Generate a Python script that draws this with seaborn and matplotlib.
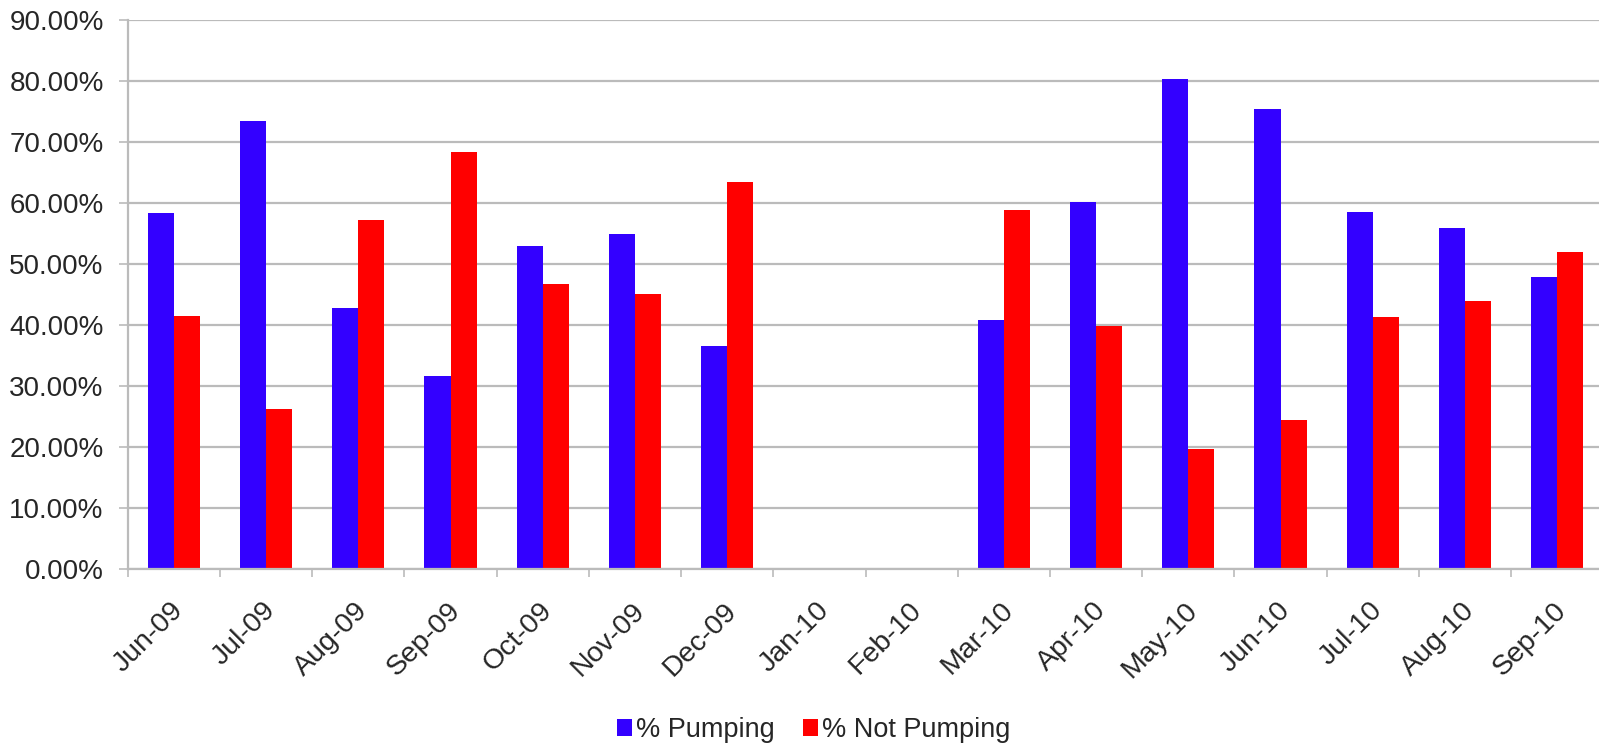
import numpy as np
import pandas as pd
import matplotlib
matplotlib.use("Agg")
import matplotlib.pyplot as plt
from matplotlib.ticker import PercentFormatter, FixedLocator
from matplotlib.patches import Patch
import matplotlib.transforms as mtransforms
import seaborn as sns

# Monthly share of time the pump was running vs idle
months = ["Jun-09", "Jul-09", "Aug-09", "Sep-09", "Oct-09", "Nov-09", "Dec-09",
          "Jan-10", "Feb-10", "Mar-10", "Apr-10", "May-10", "Jun-10", "Jul-10",
          "Aug-10", "Sep-10"]
pumping = [58.4, 73.5, 42.8, 31.6, 53.0, 54.9, 36.5,
           np.nan, np.nan, 40.9, 60.1, 80.3, 75.4, 58.5, 55.9, 47.8]
not_pumping = [41.5, 26.2, 57.2, 68.3, 46.8, 45.1, 63.5,
               np.nan, np.nan, 58.9, 39.9, 19.7, 24.5, 41.3, 44.0, 52.0]
series_names = ["% Pumping", "% Not Pumping"]
series_colors = ["#3300FF", "#FF0000"]

df = pd.DataFrame({
    "month": months * 2,
    "series": [series_names[0]] * len(months) + [series_names[1]] * len(months),
    "value": pumping + not_pumping,
})

sns.set_theme(style="white")
plt.rcParams["font.family"] = ["Liberation Sans", "DejaVu Sans"]
text_color = "#262626"
grid_color = "#BBBBBB"

fig = plt.figure(figsize=(15.99, 7.45), dpi=100)
ax = fig.add_axes([0.0799, 0.2362, 0.9228, 0.737])

sns.barplot(data=df, x="month", y="value", hue="series", order=months,
            hue_order=series_names, palette=series_colors, width=0.566,
            gap=0, saturation=1, errorbar=None, legend=False, ax=ax,
            linewidth=0)

ax.set_xlim(-0.5, len(months) - 0.5)
ax.set_ylim(0, 90)
ax.set_yticks(np.arange(0, 91, 10))
ax.yaxis.set_major_formatter(PercentFormatter(decimals=2))
ax.set_axisbelow(True)
ax.yaxis.grid(True, color=grid_color, linewidth=1.6)
ax.xaxis.grid(False)
ax.set_xlabel("")
ax.set_ylabel("")

for side in ["top", "right"]:
    ax.spines[side].set_visible(False)
for side in ["left", "bottom"]:
    ax.spines[side].set_color(grid_color)
    ax.spines[side].set_linewidth(1.6)

ax.tick_params(axis="y", which="major", length=6.3, width=1.2, color=grid_color,
               direction="out", left=True, pad=11, labelsize=20, labelcolor=text_color)

# category separators as minor ticks, labels on hidden major ticks
ax.xaxis.set_minor_locator(FixedLocator(np.arange(-0.5, len(months), 1.0)))
ax.tick_params(axis="x", which="minor", length=6, width=1.2, color=grid_color,
               direction="out", bottom=True)
ax.tick_params(axis="x", which="major", length=0, pad=27, labelsize=20.5,
               labelcolor=text_color)
offset = mtransforms.ScaledTranslation(4 / 72, 0, fig.dpi_scale_trans)
for lbl in ax.get_xticklabels():
    lbl.set_rotation(45)
    lbl.set_ha("right")
    lbl.set_va("center")
    lbl.set_rotation_mode("anchor")
    lbl.set_transform(lbl.get_transform() + offset)

handles = [Patch(facecolor=c, edgecolor="none") for c in series_colors]
fig.legend(handles, series_names, loc="center", bbox_to_anchor=(0.509, 0.02),
           ncol=2, frameon=False, fontsize=19.5, labelcolor=text_color,
           handlelength=0.55, handleheight=0.55, handletextpad=0.15,
           columnspacing=1.05)

fig.savefig("out.png", dpi=100)
